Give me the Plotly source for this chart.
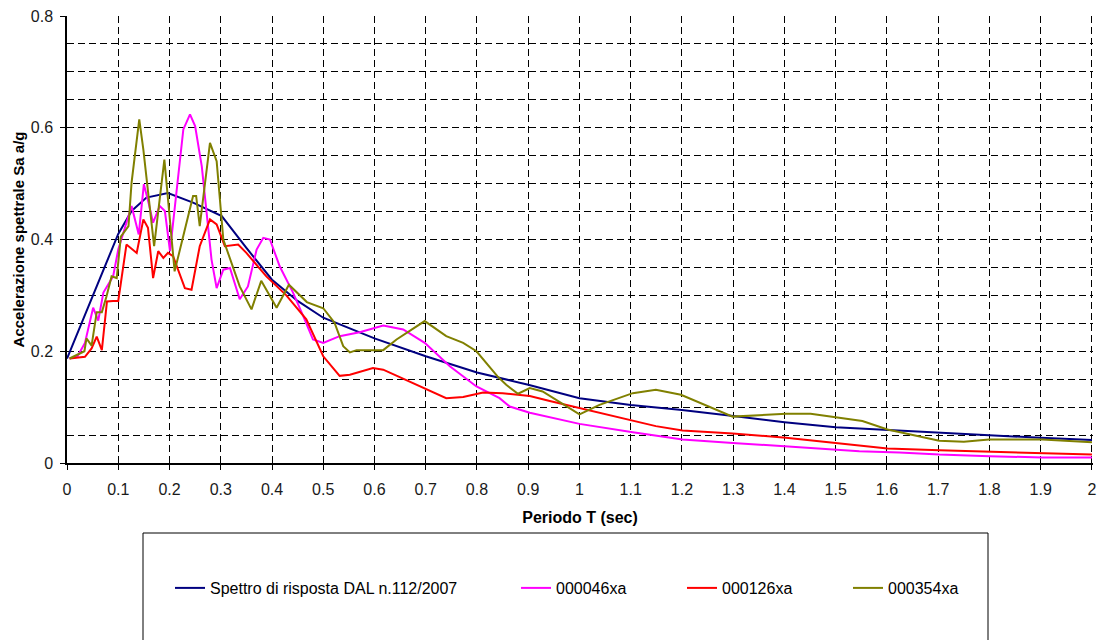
import plotly.graph_objects as go

# ---- data ----
T_dal = [0, 0.05, 0.1, 0.126, 0.155, 0.197, 0.246, 0.302, 0.35, 0.40, 0.45, 0.50, 0.60, 0.70,
         0.80, 0.90, 1.0, 1.1, 1.2, 1.3, 1.4, 1.5, 1.6, 1.7, 1.8, 1.9, 2.0]
Sa_dal = [0.187, 0.30, 0.41, 0.451, 0.475, 0.483, 0.466, 0.442, 0.385, 0.328, 0.29, 0.26, 0.223,
          0.191, 0.162, 0.140, 0.116, 0.104, 0.095, 0.084, 0.073, 0.064, 0.059, 0.054, 0.049,
          0.045, 0.041]

T_046 = [0.005, 0.02, 0.035, 0.051, 0.061, 0.071, 0.09, 0.10, 0.113, 0.126, 0.140, 0.150, 0.159,
         0.168, 0.181, 0.191, 0.201, 0.213, 0.227, 0.240, 0.250, 0.263, 0.272, 0.282, 0.292,
         0.305, 0.318, 0.337, 0.353, 0.370, 0.383, 0.396, 0.415, 0.441, 0.461, 0.480, 0.500,
         0.532, 0.571, 0.617, 0.656, 0.698, 0.747, 0.799, 0.844, 0.864, 0.903, 1.0, 1.104, 1.201,
         1.299, 1.403, 1.5, 1.546, 1.624, 1.702, 1.80, 1.903, 2.0]
Sa_046 = [0.187, 0.19, 0.215, 0.278, 0.255, 0.305, 0.334, 0.382, 0.421, 0.46, 0.409, 0.499, 0.466,
          0.43, 0.46, 0.451, 0.379, 0.48, 0.597, 0.624, 0.603, 0.531, 0.454, 0.364, 0.313,
          0.346, 0.349, 0.293, 0.316, 0.382, 0.403, 0.40, 0.352, 0.305, 0.263, 0.221, 0.215,
          0.227, 0.234, 0.246, 0.239, 0.215, 0.173, 0.137, 0.116, 0.101, 0.09, 0.07, 0.055, 0.042,
          0.036, 0.030, 0.024, 0.021, 0.019, 0.015, 0.012, 0.010, 0.010]

T_126 = [0.005, 0.035, 0.048, 0.058, 0.068, 0.078, 0.09, 0.10, 0.116, 0.136, 0.149, 0.158, 0.168,
         0.178, 0.188, 0.197, 0.207, 0.230, 0.243, 0.259, 0.279, 0.292, 0.308, 0.334, 0.350,
         0.389, 0.428, 0.467, 0.50, 0.532, 0.552, 0.597, 0.617, 0.695, 0.740, 0.773, 0.812,
         0.850, 0.903, 0.942, 1.0, 1.104, 1.149, 1.201, 1.299, 1.403, 1.5, 1.601, 1.702, 1.80,
         1.903, 2.0]
Sa_126 = [0.187, 0.19, 0.205, 0.226, 0.202, 0.289, 0.29, 0.29, 0.391, 0.376, 0.436, 0.421, 0.331,
          0.379, 0.367, 0.376, 0.37, 0.313, 0.31, 0.388, 0.436, 0.427, 0.388, 0.391, 0.376,
          0.334, 0.30, 0.257, 0.191, 0.156, 0.158, 0.170, 0.167, 0.134, 0.116, 0.118, 0.126,
          0.125, 0.120, 0.111, 0.098, 0.076, 0.066, 0.058, 0.053, 0.045, 0.036, 0.026, 0.023,
          0.020, 0.018, 0.015]

T_354 = [0.005, 0.034, 0.038, 0.048, 0.058, 0.068, 0.077, 0.087, 0.097, 0.105, 0.120, 0.126,
         0.141, 0.149, 0.170, 0.190, 0.210, 0.246, 0.252, 0.259, 0.279, 0.292, 0.305, 0.337,
         0.360, 0.379, 0.409, 0.433, 0.468, 0.50, 0.522, 0.539, 0.552, 0.565, 0.617, 0.643,
         0.698, 0.740, 0.773, 0.799, 0.840, 0.857, 0.880, 0.903, 0.928, 1.0, 1.039, 1.104,
         1.149, 1.198, 1.299, 1.403, 1.451, 1.552, 1.601, 1.702, 1.750, 1.799, 1.903, 2.0]
Sa_354 = [0.187, 0.20, 0.223, 0.21, 0.27, 0.27, 0.298, 0.334, 0.331, 0.405, 0.424, 0.502,
          0.615, 0.561, 0.388, 0.543, 0.343, 0.478, 0.478, 0.424, 0.573, 0.540, 0.40, 0.316,
          0.275, 0.326, 0.278, 0.319, 0.288, 0.277, 0.251, 0.209, 0.198, 0.202, 0.202, 0.221,
          0.254, 0.227, 0.215, 0.200, 0.155, 0.140, 0.124, 0.134, 0.128, 0.087, 0.104, 0.125,
          0.131, 0.122, 0.083, 0.088, 0.088, 0.075, 0.060, 0.040, 0.038, 0.042, 0.042, 0.037]

series = [
    ("Spettro di risposta DAL n.112/2007", T_dal, Sa_dal, "#000080", "legend"),
    ("000046xa", T_046, Sa_046, "#FF00FF", "legend2"),
    ("000126xa", T_126, Sa_126, "#FF0000", "legend3"),
    ("000354xa", T_354, Sa_354, "#808000", "legend4"),
]

x_ticks = [round(i * 0.1, 1) for i in range(21)]
x_ticklabels = ["0", "0.1", "0.2", "0.3", "0.4", "0.5", "0.6", "0.7", "0.8", "0.9", "1",
                "1.1", "1.2", "1.3", "1.4", "1.5", "1.6", "1.7", "1.8", "1.9", "2"]
y_ticks = [0, 0.2, 0.4, 0.6, 0.8]
y_ticklabels = ["0", "0.2", "0.4", "0.6", "0.8"]

FONT = "Liberation Sans, Arial, sans-serif"
DASH = "7px,4px"

fig = go.Figure()
for name, tx, sy, col, leg in series:
    fig.add_trace(go.Scatter(x=tx, y=sy, mode="lines", name=name,
                             line=dict(color=col, width=2), legend=leg))

# plot area spans 1026 x 447 px (page body margin is removed below)
W = 1026.0
H = 447.0
leg_y = (463 - 588) / H
def px_x(p):
    return (p - 67) / W

legend_common = dict(orientation="h", yanchor="middle", xanchor="left", y=leg_y,
                     font=dict(family=FONT, size=16, color="black"),
                     bgcolor="rgba(0,0,0,0)", borderwidth=0, itemwidth=30)

fig.update_layout(
    template="none",
    width=1102, height=640,
    margin=dict(l=67, r=9, t=16, b=177, autoexpand=False),
    paper_bgcolor="white", plot_bgcolor="white",
    font=dict(family=FONT, size=16, color="black"),
    showlegend=True,
    legend=dict(x=px_x(170), **legend_common),
    legend2=dict(x=px_x(516), **legend_common),
    legend3=dict(x=px_x(682), **legend_common),
    legend4=dict(x=px_x(848), **legend_common),
    xaxis=dict(range=[0, 2.002], tickvals=x_ticks, ticktext=x_ticklabels,
               automargin=False, ticklabeloverflow="allow",
               showline=True, linecolor="black", linewidth=1.5,
               ticks="outside", ticklen=5, tickcolor="black", tickwidth=1,
               ticklabelstandoff=6,
               showgrid=True, gridcolor="black", griddash=DASH, gridwidth=1,
               zeroline=False,
               tickfont=dict(family=FONT, size=16, color="#1a1a1a"),
               title=dict(text="<b>Periodo T (sec)</b>", standoff=15,
                          font=dict(family=FONT, size=16, color="black"))),
    yaxis=dict(range=[0, 0.8], tickvals=y_ticks, ticktext=y_ticklabels,
               automargin=False, ticklabeloverflow="allow",
               showline=True, linecolor="black", linewidth=1.5,
               ticks="outside", ticklen=5, tickcolor="black", tickwidth=1,
               ticklabelstandoff=4,
               showgrid=True, gridcolor="black", griddash=DASH, gridwidth=1,
               minor=dict(dtick=0.05, showgrid=True, gridcolor="black",
                          griddash=DASH, gridwidth=1, ticks=""),
               zeroline=False,
               tickfont=dict(family=FONT, size=16, color="#1a1a1a"),
               title=dict(text="<b>Accelerazione spettrale Sa a/g</b>", standoff=3,
                          font=dict(family=FONT, size=15, color="black"))),
    shapes=[dict(type="rect", xref="paper", yref="paper",
                 x0=px_x(143), x1=px_x(988), y0=(463 - 533) / H, y1=(463 - 650) / H,
                 line=dict(color="black", width=1), fillcolor="rgba(0,0,0,0)")],
)

fig.write_html("out.html",
               config={"displayModeBar": False},
               post_script="document.body.style.margin='0';document.body.style.overflow='hidden';")
